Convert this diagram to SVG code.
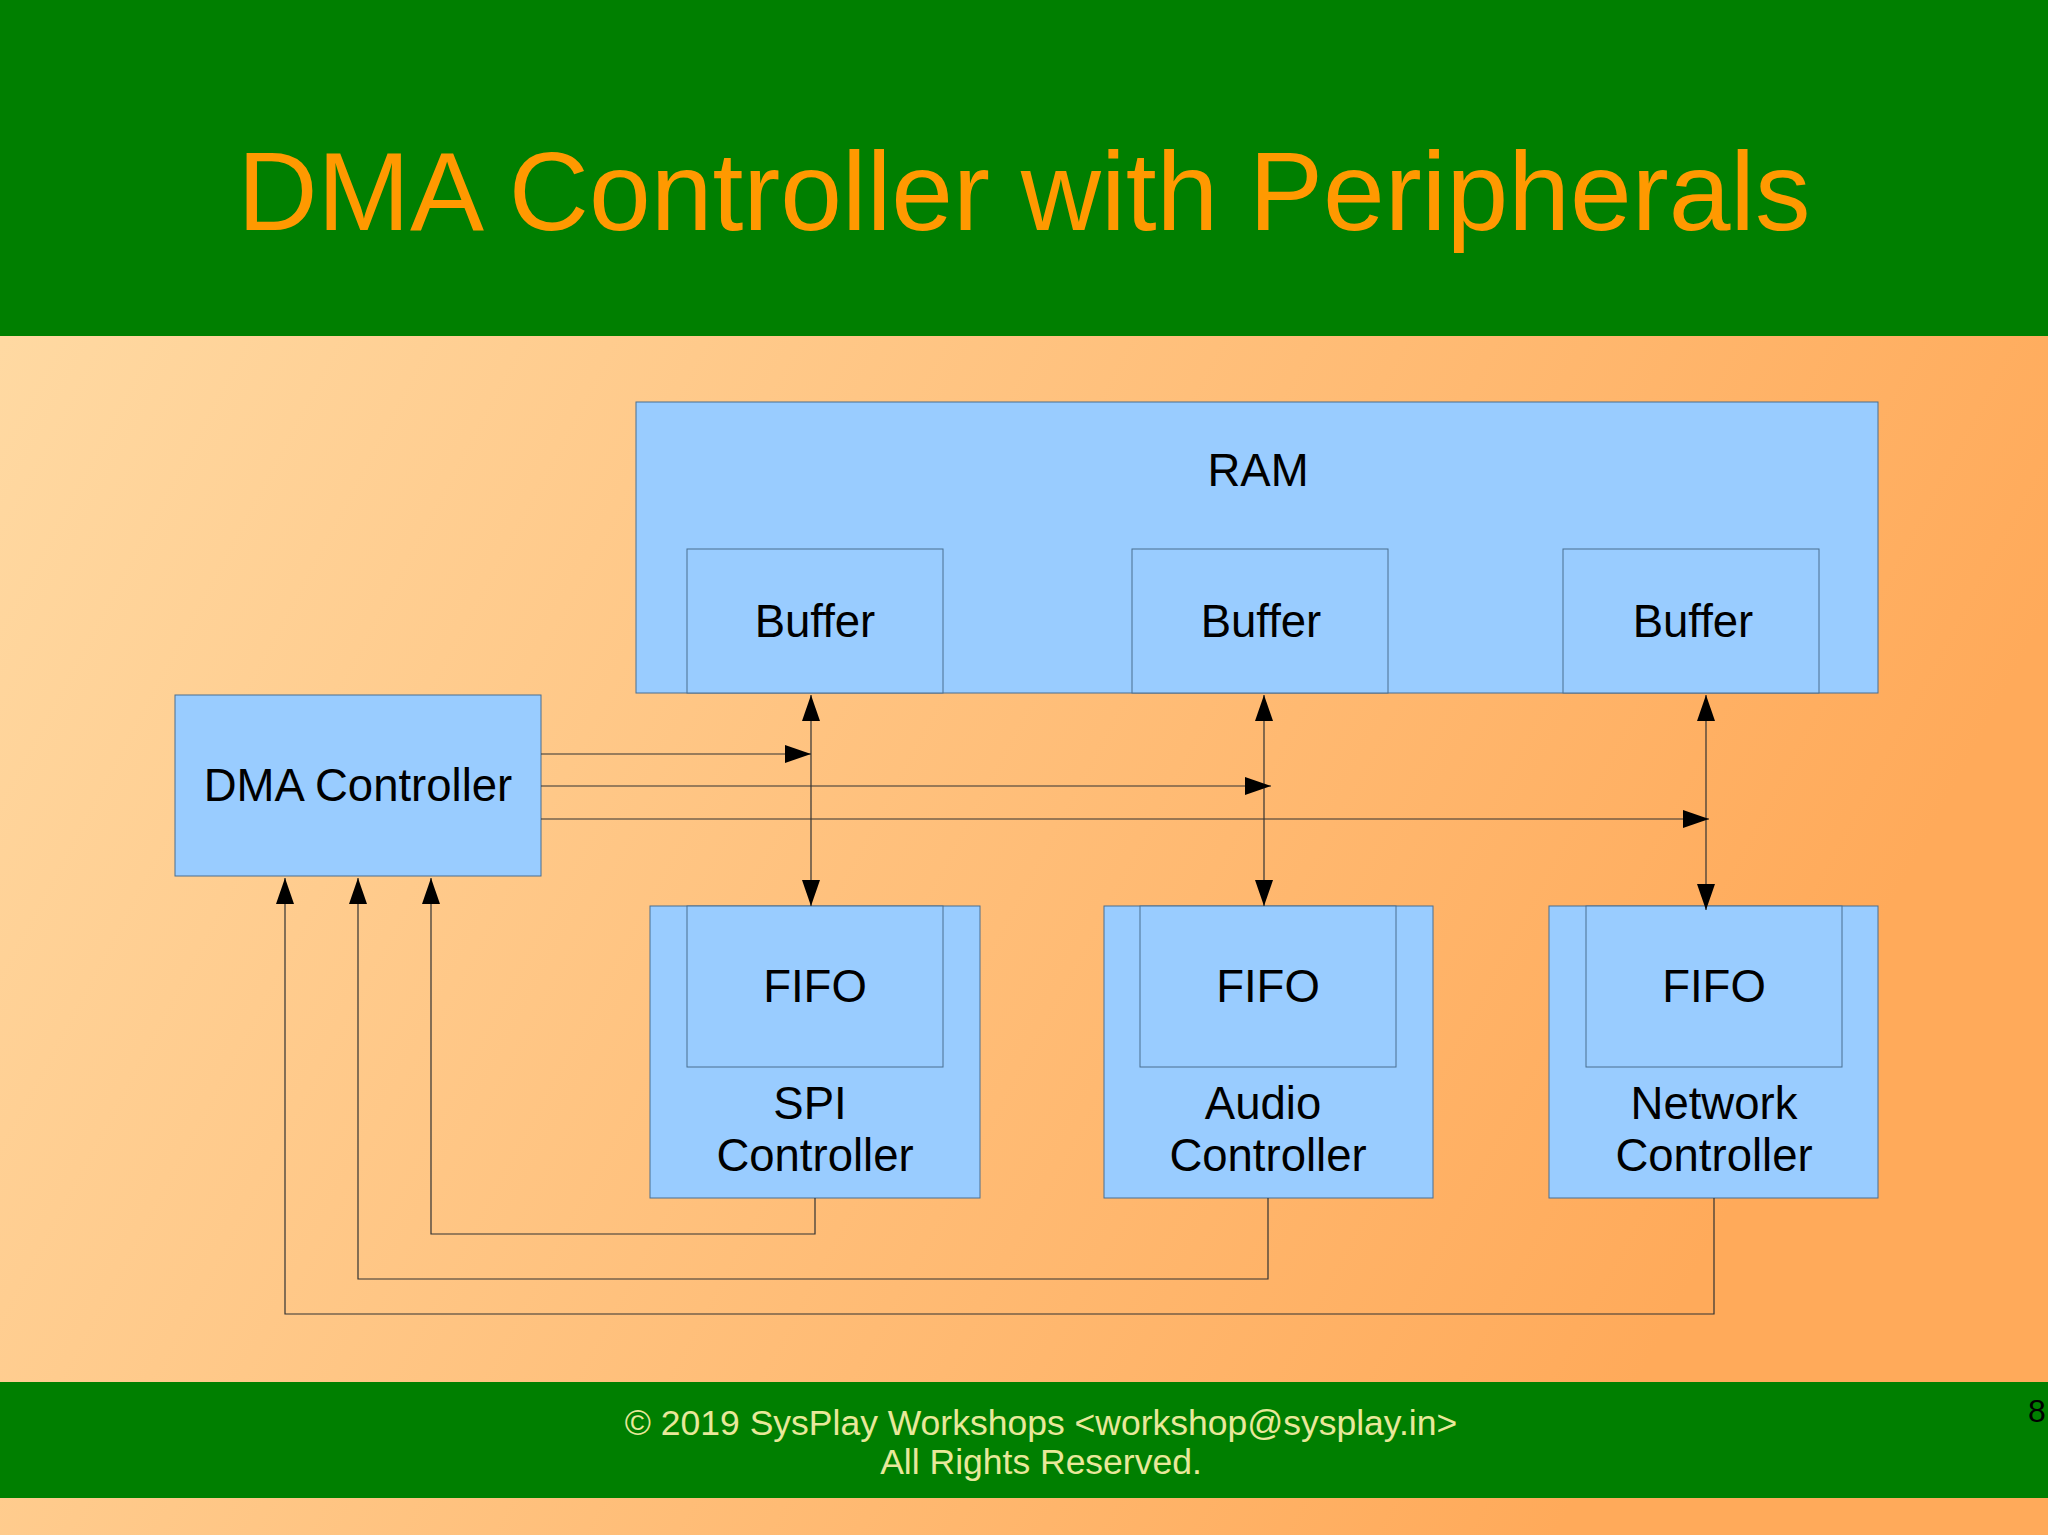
<svg xmlns="http://www.w3.org/2000/svg" width="2048" height="1535" viewBox="0 0 2048 1535">
<defs>
<linearGradient id="bg" x1="0" y1="0" x2="1" y2="0.4">
<stop offset="0" stop-color="#FFDDA8"/><stop offset="1" stop-color="#FFAA5A"/>
</linearGradient>
<marker id="ah" markerWidth="26" markerHeight="18" refX="26" refY="9" orient="auto-start-reverse" markerUnits="userSpaceOnUse">
<path d="M0,0 L26,9 L0,18 Z" fill="#000"/>
</marker>
<style>
.box{fill:#99CCFF;stroke:#4a6f90;stroke-width:1}
.t{font-family:"Liberation Sans",Arial,sans-serif;font-size:45.5px;fill:#000;text-anchor:middle}
.c{fill:none;stroke:#333;stroke-width:1.2}
</style>
</defs>
<rect width="2048" height="1535" fill="url(#bg)"/>
<rect width="2048" height="336" fill="#007F00"/>
<text x="1024" y="230" text-anchor="middle" font-family="Liberation Sans,Arial,sans-serif" font-size="111" fill="#FF9900">DMA Controller with Peripherals</text>
<rect y="1382" width="2048" height="116" fill="#007F00"/>
<text x="1041" y="1435" text-anchor="middle" font-family="Liberation Sans,Arial,sans-serif" font-size="35.5" fill="#E8E89A">© 2019 SysPlay Workshops &lt;workshop@sysplay.in&gt;</text>
<text x="1041" y="1474" text-anchor="middle" font-family="Liberation Sans,Arial,sans-serif" font-size="35.5" fill="#E8E89A">All Rights Reserved.</text>
<text x="2028" y="1422" font-family="Liberation Sans,Arial,sans-serif" font-size="32" fill="#000">8</text>
<g id="ram"><rect class="box" x="636" y="402" width="1242" height="291"/><text class="t" x="1258" y="486">RAM</text></g>
<g id="buf1"><rect class="box" x="687" y="549" width="256" height="144"/><text class="t" x="815" y="637">Buffer</text></g>
<g id="buf2"><rect class="box" x="1132" y="549" width="256" height="144"/><text class="t" x="1261" y="637">Buffer</text></g>
<g id="buf3"><rect class="box" x="1563" y="549" width="256" height="144"/><text class="t" x="1693" y="637">Buffer</text></g>
<g id="dma"><rect class="box" x="175" y="695" width="366" height="181"/><text class="t" x="358" y="801">DMA Controller</text></g>
<g id="spi"><rect class="box" x="650" y="906" width="330" height="292"/><text class="t" x="810" y="1119">SPI</text><text class="t" x="815" y="1171">Controller</text></g>
<g id="fifo1"><rect class="box" x="687" y="906" width="256" height="161"/><text class="t" x="815" y="1002">FIFO</text></g>
<g id="audio"><rect class="box" x="1104" y="906" width="329" height="292"/><text class="t" x="1263" y="1119">Audio</text><text class="t" x="1268" y="1171">Controller</text></g>
<g id="fifo2"><rect class="box" x="1140" y="906" width="256" height="161"/><text class="t" x="1268" y="1002">FIFO</text></g>
<g id="net"><rect class="box" x="1549" y="906" width="329" height="292"/><text class="t" x="1714" y="1119">Network</text><text class="t" x="1714" y="1171">Controller</text></g>
<g id="fifo3"><rect class="box" x="1586" y="906" width="256" height="161"/><text class="t" x="1714" y="1002">FIFO</text></g>
<g id="connectors">
<line class="c" x1="811" y1="695" x2="811" y2="906" marker-start="url(#ah)" marker-end="url(#ah)"/>
<line class="c" x1="1264" y1="695" x2="1264" y2="906" marker-start="url(#ah)" marker-end="url(#ah)"/>
<line class="c" x1="1706" y1="695" x2="1706" y2="910" marker-start="url(#ah)" marker-end="url(#ah)"/>
<line class="c" x1="541" y1="754" x2="811" y2="754" marker-end="url(#ah)"/>
<line class="c" x1="541" y1="786" x2="1271" y2="786" marker-end="url(#ah)"/>
<line class="c" x1="541" y1="819" x2="1709" y2="819" marker-end="url(#ah)"/>
<polyline class="c" points="815,1198 815,1234 431,1234 431,878" marker-end="url(#ah)"/>
<polyline class="c" points="1268,1198 1268,1279 358,1279 358,878" marker-end="url(#ah)"/>
<polyline class="c" points="1714,1198 1714,1314 285,1314 285,878" marker-end="url(#ah)"/>
</g>
</svg>
